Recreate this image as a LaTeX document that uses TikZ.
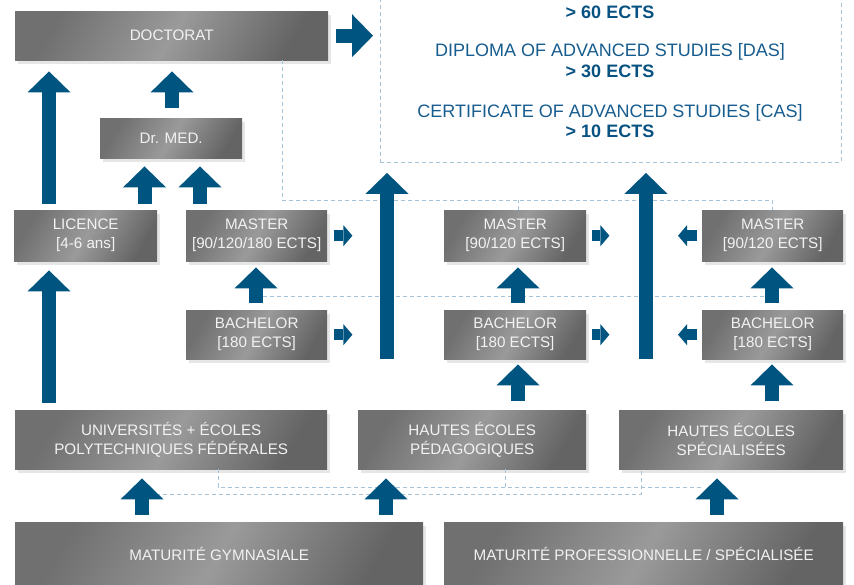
\documentclass[tikz,border=0pt]{standalone}
\usepackage{fontspec}
\setmainfont{Liberation Sans}
\usetikzlibrary{arrows.meta,shadows,calc}
\definecolor{arrowblue}{RGB}{0,84,128}
\definecolor{txtblue}{RGB}{22,92,142}
\definecolor{boldblue}{RGB}{8,82,130}
\definecolor{dashc}{RGB}{165,196,218}
\definecolor{gdark}{RGB}{112,112,112}
\definecolor{glight}{RGB}{154,154,154}
\definecolor{gdarkb}{RGB}{100,100,100}
\definecolor{boxtext}{RGB}{242,242,242}
\begin{document}
\begin{tikzpicture}[x=1pt,y=-1pt,
  box/.style={rectangle, anchor=north west, inner sep=0pt, text=boxtext,
    font=\fontsize{15.2}{19}\selectfont, align=center,
    left color=gdark, right color=gdarkb, middle color=glight, shading angle=60,
    drop shadow={shadow xshift=2.5pt, shadow yshift=-3.5pt, opacity=0.2}},
  barrow/.style={draw=arrowblue, line width=14pt, -{Triangle[width=43pt,length=21pt,line width=0pt]}},
  sarrow/.style={draw=arrowblue, line width=11pt, -{Triangle[width=21pt,length=9pt,line width=0pt]}},
  dline/.style={draw=dashc, line width=0.9pt, dash pattern=on 4pt off 3pt},
  bluetxt/.style={anchor=base, text=txtblue, font=\fontsize{18}{22}\selectfont},
  boldtxt/.style={anchor=base, text=boldblue, font=\fontsize{18}{22}\selectfont\bfseries},
]
\useasboundingbox (0,0) rectangle (854,584);

% advanced studies frame
\node[draw=dashc, line width=0.9pt, dash pattern=on 4pt off 3pt, anchor=north west,
  minimum width=461pt, minimum height=167pt, inner sep=0pt] (adv) at (380,-5) {};
\node[boldtxt] (t60) at (610,18) {> 60 ECTS};
\node[bluetxt] (tdas) at (610,56) {DIPLOMA OF ADVANCED STUDIES [DAS]};
\node[boldtxt] (t30) at (610,77) {> 30 ECTS};
\node[bluetxt] (tcas) at (610,117) {CERTIFICATE OF ADVANCED STUDIES [CAS]};
\node[boldtxt] (t10) at (610,137) {> 10 ECTS};

% boxes
\node[box, minimum width=313pt, minimum height=49pt] (doc) at (15,11) {DOCTORAT};
\node[box, minimum width=142pt, minimum height=40pt] (drmed) at (100,118) {Dr. MED.};
\node[box, minimum width=143pt, minimum height=51pt] (lic) at (14,210) {LICENCE\\{[4-6 ans]}};
\node[box, minimum width=141pt, minimum height=51pt] (mas1) at (186,210) {MASTER\\{[90/120/180 ECTS]}};
\node[box, minimum width=142pt, minimum height=51pt] (mas2) at (444,210) {MASTER\\{[90/120 ECTS]}};
\node[box, minimum width=141pt, minimum height=51pt] (mas3) at (702,210) {MASTER\\{[90/120 ECTS]}};
\node[box, minimum width=141pt, minimum height=49pt] (bac1) at (186,310) {BACHELOR\\{[180 ECTS]}};
\node[box, minimum width=142pt, minimum height=49pt] (bac2) at (444,310) {BACHELOR\\{[180 ECTS]}};
\node[box, minimum width=141pt, minimum height=49pt] (bac3) at (702,310) {BACHELOR\\{[180 ECTS]}};
\node[box, minimum width=312pt, minimum height=59pt] (uni) at (15,410) {UNIVERSITÉS + ÉCOLES\\POLYTECHNIQUES FÉDÉRALES};
\node[box, minimum width=228pt, minimum height=59pt] (hep) at (358,410) {HAUTES ÉCOLES\\PÉDAGOGIQUES};
\node[box, minimum width=224pt, minimum height=59pt] (hes) at (619,410) {HAUTES ÉCOLES\\SPÉCIALISÉES};
\node[box, minimum width=408pt, minimum height=64pt] (matg) at (15,522) {MATURITÉ GYMNASIALE};
\node[box, minimum width=399pt, minimum height=64pt] (matp) at (444,522) {MATURITÉ PROFESSIONNELLE / SPÉCIALISÉE};

% column / junction coordinates
\coordinate (xa) at (49,0);
\coordinate (xb) at (172,0);
\coordinate (xc) at (144.5,0);
\coordinate (xd) at (200,0);
\coordinate (xe) at (256,0);
\coordinate (xf) at (518,0);
\coordinate (xg) at (772,0);
\coordinate (xh) at (142,0);
\coordinate (xi) at (386,0);
\coordinate (xj) at (717,0);
\coordinate (xm1) at (387,0);
\coordinate (xm2) at (646,0);
\coordinate (j1) at (282,200);
\coordinate (j2a) at (263,296);
\coordinate (j2b) at (764,296);
\coordinate (j3) at (218,487);
\coordinate (j3b) at (505,487);
\coordinate (j3e) at (703,487);
\coordinate (j4a) at (142,494);
\coordinate (j4b) at (641,494);

% dashed links
\draw[dline] (doc.south -| j1) -- (j1) -| (mas3.north);
\draw[dline] (mas2.north -| xf) -- (j1 -| xf);
\draw[dline] (j2a) -- (j2b);
\draw[dline] (uni.south -| j3) -- (j3) -- (j3e);
\draw[dline] (hep.south -| j3b) -- (j3b);
\draw[dline] (j4a) -- (j4b) -- (hes.south -| j4b);

% block arrows
\draw[barrow, shorten <=6pt, shorten >=11pt] (lic.north -| xa) -- (doc.south -| xa);
\draw[barrow, shorten <=7pt, shorten >=9pt] (uni.north -| xa) -- (lic.south -| xa);
\draw[barrow, shorten <=10pt, shorten >=11pt] (drmed.north -| xb) -- (doc.south -| xb);
\draw[barrow, shorten <=6pt, shorten >=8pt] (lic.north -| xc) -- (drmed.south -| xc);
\draw[barrow, shorten <=6pt, shorten >=8pt] (mas1.north -| xd) -- (drmed.south -| xd);
\draw[barrow, shorten <=7pt, shorten >=6pt] (bac1.north -| xe) -- (mas1.south -| xe);
\draw[barrow, shorten <=7pt, shorten >=6pt] (bac2.north -| xf) -- (mas2.south -| xf);
\draw[barrow, shorten <=7pt, shorten >=6pt] (bac3.north -| xg) -- (mas3.south -| xg);
\draw[barrow, shorten <=9pt, shorten >=5pt] (hep.north -| xf) -- (bac2.south -| xf);
\draw[barrow, shorten <=9pt, shorten >=5pt] (hes.north -| xg) -- (bac3.south -| xg);
\draw[barrow, shorten <=7pt, shorten >=9pt] (matg.north -| xh) -- (uni.south -| xh);
\draw[barrow, shorten <=7pt, shorten >=9pt] (matg.north -| xi) -- (hep.south -| xi);
\draw[barrow, shorten <=7pt, shorten >=9pt] (matp.north -| xj) -- (hes.south -| xj);
\draw[barrow, shorten >=10pt] (bac1.south -| xm1) -- (adv.south -| xm1);
\draw[barrow, shorten >=10pt] (bac1.south -| xm2) -- (adv.south -| xm2);
\draw[barrow, shorten <=8pt, shorten >=7pt] (doc.east) -- (doc.east -| adv.west);

% small side arrows
\draw[sarrow, shorten <=7pt] (mas1.east) -- ++(25,0);
\draw[sarrow, shorten <=7pt] (bac1.east) -- ++(25,0);
\draw[sarrow, shorten <=6pt] (mas2.east) -- ++(23,0);
\draw[sarrow, shorten <=6pt] (bac2.east) -- ++(23,0);
\draw[sarrow, shorten <=5pt] (mas3.west) -- ++(-24,0);
\draw[sarrow, shorten <=5pt] (bac3.west) -- ++(-24,0);
\end{tikzpicture}
\end{document}
